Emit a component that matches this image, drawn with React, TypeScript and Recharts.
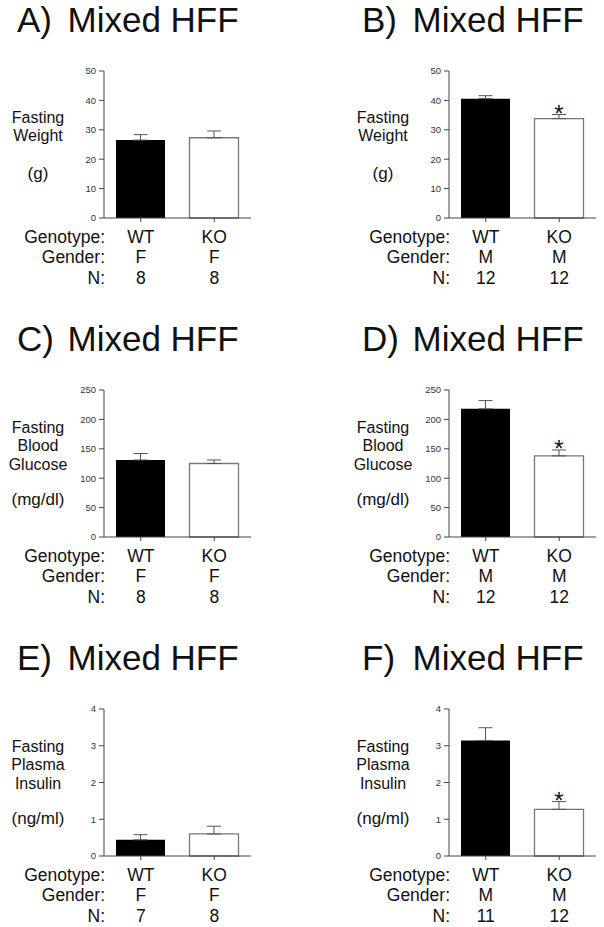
import { Bar, BarChart, ErrorBar, LabelList, XAxis, YAxis } from "recharts";

const FONT = "'Liberation Sans', Arial, Helvetica, sans-serif";
const INK = "#111";

const GENOTYPES = ["WT", "KO"];
const ROW_HEADERS = ["Genotype:", "Gender:", "N:"];

// fasting weight (g)
const WEIGHT_F_MEAN = [26.5, 27.3];
const WEIGHT_F_SEM = [1.85, 2.3];
const WEIGHT_M_MEAN = [40.6, 33.8];
const WEIGHT_M_SEM = [1.0, 1.4];
const WEIGHT_TICKS = [0, 10, 20, 30, 40, 50];

// fasting blood glucose (mg/dl)
const GLUCOSE_F_MEAN = [131, 125];
const GLUCOSE_F_SEM = [11, 6];
const GLUCOSE_M_MEAN = [218, 138];
const GLUCOSE_M_SEM = [14, 10];
const GLUCOSE_TICKS = [0, 50, 100, 150, 200, 250];

// fasting plasma insulin (ng/ml)
const INSULIN_F_MEAN = [0.44, 0.6];
const INSULIN_F_SEM = [0.14, 0.21];
const INSULIN_M_MEAN = [3.14, 1.27];
const INSULIN_M_SEM = [0.35, 0.21];
const INSULIN_TICKS = [0, 1, 2, 3, 4];

const GENDER_F = ["F", "F"];
const GENDER_M = ["M", "M"];
const N_A = [8, 8];
const N_B = [12, 12];
const N_C = [8, 8];
const N_D = [12, 12];
const N_E = [7, 8];
const N_F = [11, 12];
const SIG_NONE = [false, false];
const SIG_KO = [false, true];

const WEIGHT_LABEL = ["Fasting", "Weight"];
const GLUCOSE_LABEL = ["Fasting", "Blood", "Glucose"];
const INSULIN_LABEL = ["Fasting", "Plasma", "Insulin"];

type PanelProps = {
  letter: string;
  left: number;
  top: number;
  mean: number[];
  sem: number[];
  gender: string[];
  n: number[];
  sig: boolean[];
  ticks: number[];
  label: string[];
  unit: string;
};

function Panel({ letter, left, top, mean, sem, gender, n, sig, ticks, label, unit }: PanelProps) {
  const data = GENOTYPES.map((g, i) => ({ genotype: g, mean: mean[i], err: [0, sem[i]] }));
  const lineGap = 18.5;
  const firstLine = 132 - ((label.length - 1) * lineGap) / 2;
  const unitLine = 179 + (label.length - 2) * 6.5;

  const renderTick = (p: any) => {
    const i = p.payload.index;
    return (
      <g fontFamily={FONT} fontSize={17.5} fill={INK} textAnchor="middle">
        <text x={p.x} y={p.y + 18.5} fill={INK}>{p.payload.value}</text>
        <text x={p.x} y={p.y + 39} fill={INK}>{gender[i]}</text>
        <text x={p.x} y={p.y + 59.5} fill={INK}>{n[i]}</text>
      </g>
    );
  };

  // significance star sits just above the error bar cap
  const renderStar = (p: any) => {
    const vb = p.viewBox ?? p;
    const i = p.index;
    if (!sig[i]) return null;
    const errTop = vb.y - (sem[i] * vb.height) / mean[i];
    return (
      <text x={vb.x + vb.width / 2} y={errTop + 7.3} textAnchor="middle" fontFamily={FONT} fontSize={24} fill={INK}>
        *
      </text>
    );
  };

  return (
    <div style={{ position: "absolute", left, top, width: 300, height: 290 }}>
      <BarChart width={300} height={290} data={data} margin={{ top: 71, right: 49, bottom: 2, left: 0 }}>
        <YAxis
          type="number"
          domain={[ticks[0], ticks[ticks.length - 1]]}
          ticks={ticks}
          width={104}
          tickSize={5}
          tickMargin={3}
          stroke="#444"
          tick={{ fontSize: 9.5, fill: "#333", fontFamily: FONT }}
        />
        <XAxis
          dataKey="genotype"
          height={70}
          tickSize={4}
          tickMargin={2}
          stroke="#444"
          tick={renderTick}
          interval={0}
        />
        <Bar dataKey="mean" barSize={49} isAnimationActive={false} fill="#000" stroke="none">
          <ErrorBar dataKey="err" direction="y" width={7} stroke="#555" strokeWidth={1} isAnimationActive={false} />
          <LabelList dataKey="mean" content={renderStar} />
        </Bar>
      </BarChart>
      <svg
        width={300}
        height={290}
        style={{ position: "absolute", left: 0, top: 0, pointerEvents: "none" }}
        fontFamily={FONT}
        fill={INK}
      >
        <text x={17} y={32} fontSize={35}>{letter + ")"}</text>
        <text x={67.5} y={32} fontSize={35}>Mixed HFF</text>
        {label.map((t, k) => (
          <text key={t} x={38} y={firstLine + k * lineGap} fontSize={16} textAnchor="middle">
            {t}
          </text>
        ))}
        <text x={38} y={unitLine} fontSize={17} textAnchor="middle">{unit}</text>
        {ROW_HEADERS.map((t, k) => (
          <text key={t} x={105} y={242.5 + k * 20.5} fontSize={17.5} textAnchor="end">
            {t}
          </text>
        ))}
      </svg>
    </div>
  );
}

export default function App() {
  return (
    <div
      style={{
        position: "absolute",
        left: 0,
        top: 0,
        width: 604,
        height: 927,
        overflow: "hidden",
        background: "#fff",
      }}
    >
      {/* KO bar is drawn open with a grey outline */}
      <style>{`.recharts-bar-rectangle:nth-child(2) path { fill: #fff; stroke: #777; stroke-width: 1.3px; }`}</style>
      <Panel letter="A" left={0} top={0} mean={WEIGHT_F_MEAN} sem={WEIGHT_F_SEM} gender={GENDER_F} n={N_A} sig={SIG_NONE} ticks={WEIGHT_TICKS} label={WEIGHT_LABEL} unit="(g)" />
      <Panel letter="B" left={345} top={0} mean={WEIGHT_M_MEAN} sem={WEIGHT_M_SEM} gender={GENDER_M} n={N_B} sig={SIG_KO} ticks={WEIGHT_TICKS} label={WEIGHT_LABEL} unit="(g)" />
      <Panel letter="C" left={0} top={319} mean={GLUCOSE_F_MEAN} sem={GLUCOSE_F_SEM} gender={GENDER_F} n={N_C} sig={SIG_NONE} ticks={GLUCOSE_TICKS} label={GLUCOSE_LABEL} unit="(mg/dl)" />
      <Panel letter="D" left={345} top={319} mean={GLUCOSE_M_MEAN} sem={GLUCOSE_M_SEM} gender={GENDER_M} n={N_D} sig={SIG_KO} ticks={GLUCOSE_TICKS} label={GLUCOSE_LABEL} unit="(mg/dl)" />
      <Panel letter="E" left={0} top={638} mean={INSULIN_F_MEAN} sem={INSULIN_F_SEM} gender={GENDER_F} n={N_E} sig={SIG_NONE} ticks={INSULIN_TICKS} label={INSULIN_LABEL} unit="(ng/ml)" />
      <Panel letter="F" left={345} top={638} mean={INSULIN_M_MEAN} sem={INSULIN_M_SEM} gender={GENDER_M} n={N_F} sig={SIG_KO} ticks={INSULIN_TICKS} label={INSULIN_LABEL} unit="(ng/ml)" />
    </div>
  );
}
